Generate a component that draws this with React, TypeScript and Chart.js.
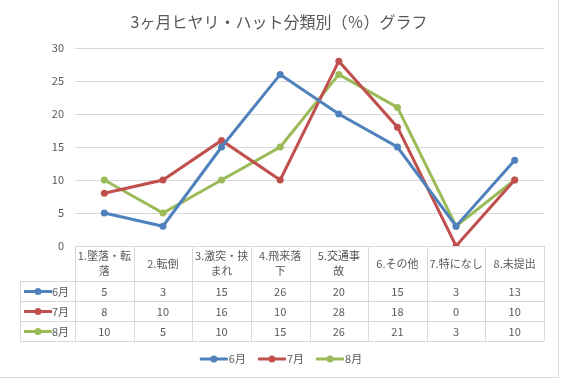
import React, { useEffect, useRef } from "react";
import { Chart, registerables } from "chart.js";

Chart.register(...registerables);

const title = "3ヶ月ヒヤリ・ハット分類別（％）グラフ";
const categories: string[][] = [
  ["1.墜落・転", "落"],
  ["2.転倒"],
  ["3.激突・挟", "まれ"],
  ["4.飛来落", "下"],
  ["5.交通事", "故"],
  ["6.その他"],
  ["7.特になし"],
  ["8.未提出"],
];
const seriesNames = ["6月", "7月", "8月"];
const june = [5, 3, 15, 26, 20, 15, 3, 13];
const july = [8, 10, 16, 10, 28, 18, 0, 10];
const august = [10, 5, 10, 15, 26, 21, 3, 10];
const colors = ["#4f81bd", "#c0504d", "#9bbb59"];
const yTicks = [0, 5, 10, 15, 20, 25, 30];

const FONT = "'Noto Sans CJK JP', 'Noto Sans', sans-serif";
const TEXT = "#595959";
const GRID = "#d9d9d9";

const tablePlugin = {
  id: "tableAndDecor",
  afterDraw(chart: any) {
    const ctx: CanvasRenderingContext2D = chart.ctx;
    const { left, right, bottom } = chart.chartArea;
    const xs = chart.scales.x;
    const n = categories.length;
    const colW = (right - left) / n;
    const headerTop = bottom;
    const headerH = 35;
    const rowH = 20;
    const labelLeft = 20;
    const rows = chart.data.datasets.length;
    const tableBottom = headerTop + headerH + rows * rowH;
    const px = (v: number) => Math.round(v) + 0.5;

    ctx.save();
    ctx.strokeStyle = GRID;
    ctx.lineWidth = 1;
    ctx.beginPath();
    // horizontal lines
    ctx.moveTo(left, px(headerTop));
    ctx.lineTo(right, px(headerTop));
    for (let r = 0; r <= rows; r++) {
      const y = px(headerTop + headerH + r * rowH);
      ctx.moveTo(labelLeft, y);
      ctx.lineTo(right, y);
    }
    // vertical lines
    for (let i = 0; i <= n; i++) {
      const x = px(left + i * colW);
      ctx.moveTo(x, headerTop);
      ctx.lineTo(x, tableBottom);
    }
    ctx.moveTo(px(labelLeft), headerTop + headerH);
    ctx.lineTo(px(labelLeft), tableBottom);
    ctx.stroke();

    // header text
    ctx.fillStyle = TEXT;
    ctx.font = `11px ${FONT}`;
    ctx.textAlign = "center";
    ctx.textBaseline = "middle";
    categories.forEach((lines, i) => {
      const cx = xs.getPixelForValue(i);
      const cy = headerTop + headerH / 2;
      const lh = 15;
      lines.forEach((ln, k) => {
        ctx.fillText(ln, cx, cy + (k - (lines.length - 1) / 2) * lh);
      });
    });

    // rows
    chart.data.datasets.forEach((ds: any, r: number) => {
      const cy = headerTop + headerH + r * rowH + rowH / 2 + 0.5;
      ds.data.forEach((v: number, i: number) => {
        ctx.fillStyle = TEXT;
        ctx.textAlign = "center";
        ctx.fillText(String(v), xs.getPixelForValue(i), cy);
      });
      // sample
      ctx.strokeStyle = ds.borderColor;
      ctx.lineWidth = 3;
      ctx.beginPath();
      ctx.moveTo(24, cy);
      ctx.lineTo(52, cy);
      ctx.stroke();
      ctx.fillStyle = ds.borderColor;
      ctx.beginPath();
      ctx.arc(38, cy, 3.5, 0, Math.PI * 2);
      ctx.fill();
      ctx.fillStyle = TEXT;
      ctx.textAlign = "left";
      ctx.fillText(ds.label, 52, cy);
    });

    // legend
    ctx.font = `11px ${FONT}`;
    const lineW = 28;
    const gapText = 1;
    const gapItem = 12;
    const widths = chart.data.datasets.map(
      (ds: any) => lineW + gapText + ctx.measureText(ds.label).width
    );
    const total = widths.reduce((a: number, b: number) => a + b, 0) + gapItem * (widths.length - 1);
    let lx = chart.width / 2 - total / 2;
    const ly = 359;
    chart.data.datasets.forEach((ds: any, r: number) => {
      ctx.strokeStyle = ds.borderColor;
      ctx.lineWidth = 3;
      ctx.beginPath();
      ctx.moveTo(lx, ly);
      ctx.lineTo(lx + lineW, ly);
      ctx.stroke();
      ctx.fillStyle = ds.borderColor;
      ctx.beginPath();
      ctx.arc(lx + lineW / 2, ly, 3.5, 0, Math.PI * 2);
      ctx.fill();
      ctx.fillStyle = TEXT;
      ctx.textAlign = "left";
      ctx.fillText(ds.label, lx + lineW + gapText, ly);
      lx += widths[r] + gapItem;
    });

    // title
    ctx.font = `16px ${FONT}`;
    ctx.fillStyle = TEXT;
    ctx.textAlign = "center";
    ctx.fillText(title, 279, 22);

    // outer border
    ctx.strokeStyle = GRID;
    ctx.lineWidth = 1;
    ctx.strokeRect(-5, -5, 558.5 + 5, 377.5 + 5);
    ctx.restore();
  },
};

export default function App() {
  const ref = useRef<HTMLCanvasElement | null>(null);
  useEffect(() => {
    if (!ref.current) return;
    const values = [june, july, august];
    const chart = new Chart(ref.current, {
      type: "line",
      data: {
        labels: categories.map((c) => c.join("")),
        datasets: values.map((d, i) => ({
          label: seriesNames[i],
          data: d,
          borderColor: colors[i],
          backgroundColor: colors[i],
          borderWidth: 3,
          pointRadius: 3.5,
          pointHoverRadius: 3.5,
          pointBorderWidth: 0,
          tension: 0,
        })),
      },
      options: {
        responsive: false,
        animation: false,
        layout: { padding: { top: 48, bottom: 133, left: 0, right: 18 } },
        plugins: {
          legend: { display: false },
          title: { display: false },
          tooltip: { enabled: false },
        },
        scales: {
          x: {
            display: false,
            offset: true,
          },
          y: {
            min: 0,
            max: 30,
            afterFit: (s: any) => {
              s.width = 75;
            },
            afterBuildTicks: (s: any) => {
              s.ticks = yTicks.map((v) => ({ value: v }));
            },
            border: { display: false },
            grid: { color: GRID, drawTicks: false, lineWidth: 1 },
            ticks: {
              color: TEXT,
              font: { size: 11, family: FONT },
              padding: 11,
            },
          },
        },
      },
      plugins: [tablePlugin],
    });
    return () => chart.destroy();
  }, []);
  return (
    <div style={{ position: "fixed", left: 0, top: 0, width: 562, height: 379, background: "#fff" }}>
      <canvas ref={ref} width={562} height={379} style={{ width: 562, height: 379, display: "block" }} />
    </div>
  );
}
